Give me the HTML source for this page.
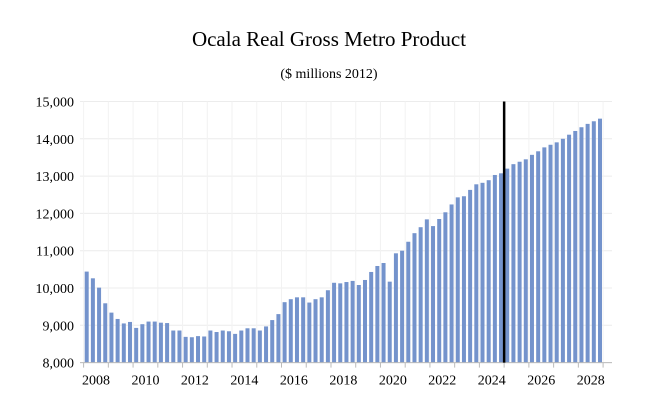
<!DOCTYPE html>
<html><head><meta charset="utf-8"><style>
body{margin:0;background:#fff;font-family:"Liberation Serif",serif}
</style></head><body>
<svg width="649" height="415" xmlns="http://www.w3.org/2000/svg" font-family="Liberation Serif, serif">
<text x="329" y="46" font-size="21" text-anchor="middle">Ocala Real Gross Metro Product</text>
<text x="329" y="78" font-size="14" text-anchor="middle">($ millions 2012)</text>
<g id="grid"></g><g id="bars"></g><g id="axes"></g>
</svg>
<script>
const values=[10440,10260,10010,9590,9340,9170,9050,9090,8930,9030,9100,9100,9070,9060,8860,8860,8690,8680,8710,8700,8860,8820,8860,8840,8770,8860,8920,8920,8860,8970,9140,9300,9620,9700,9750,9750,9610,9700,9750,9940,10140,10125,10160,10190,10080,10215,10430,10590,10670,10170,10930,11000,11240,11470,11630,11840,11660,11850,12030,12240,12430,12460,12630,12780,12820,12890,13030,13075,13200,13320,13385,13450,13570,13665,13770,13840,13905,14000,14110,14210,14310,14400,14470,14540];
const yTicks=[8000,9000,10000,11000,12000,13000,14000,15000];
const yearLabels=[2008,2010,2012,2014,2016,2018,2020,2022,2024,2026,2028];
const startYear=2008;
const forecastIndex=67.5;
const NS="http://www.w3.org/2000/svg";
const x0=86.7, step=(600-86.7)/83, yBase=362.6, pxPer=37.3/1000;
const X=i=>x0+i*step;
const Y=v=>yBase-(v-8000)*pxPer;
function mk(t,a,p){const e=document.createElementNS(NS,t);for(const k in a)e.setAttribute(k,a[k]);document.getElementById(p).appendChild(e);return e;}
yTicks.forEach(v=>{
 const l=mk('line',{x1:80,x2:612,y1:Y(v),y2:Y(v),stroke:'#ececec','stroke-width':1},'grid');
 
 
 const t=mk('text',{x:74,y:Y(v)+5,'font-size':14,'text-anchor':'end'},'axes');
 t.textContent=v.toLocaleString('en-US');
 
 
});
for(let y=startYear;y<=2029;y++){
 const xb=X((y-startYear)*4)-step/2;
 const g=mk('line',{x1:xb,x2:xb,y1:Y(15000),y2:yBase,stroke:'#f2f2f2'},'grid');
 
 
 const tk=mk('line',{x1:xb,x2:xb,y1:yBase,y2:yBase+5,stroke:'#bbb'},'axes');
 
 
}
values.forEach((v,i)=>{
 const r=mk('rect',{x:X(i)-2,y:Y(v),width:4,height:yBase-Y(v),fill:'#7493cc'},'bars');
 
 
});
const ax=mk('line',{x1:80,x2:612,y1:yBase,y2:yBase,stroke:'#bbb'},'axes');


yearLabels.forEach(y=>{
 const t=mk('text',{x:X((y-startYear)*4+1.5),y:yBase+22,'font-size':14,'text-anchor':'middle'},'axes');
 t.textContent=y;
 
 
});
const fl=mk('line',{x1:X(forecastIndex),x2:X(forecastIndex),y1:Y(15000),y2:yBase,stroke:'#000','stroke-width':2.5},'axes');


</script>
</body></html>
